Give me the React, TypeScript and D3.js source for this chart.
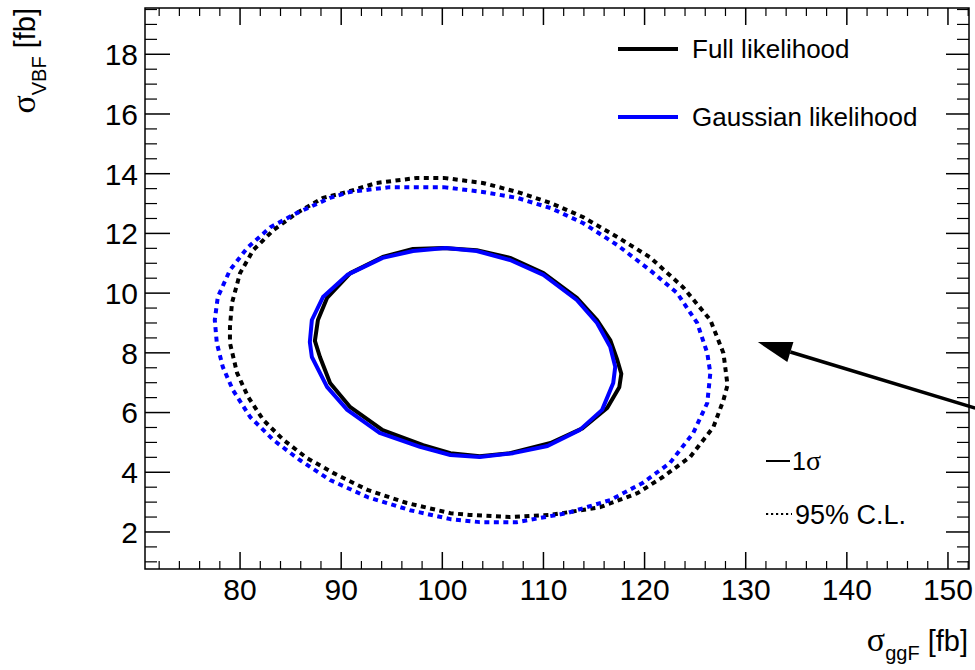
import React from "react";
import * as d3 from "d3";

type Pt = [number, number];

// contour points: [sigma_ggF, sigma_VBF]
const fullOneSigma: Pt[] = [
  [100.1, 11.51], [103.4, 11.44], [106.7, 11.18], [110.0, 10.67], [113.3, 9.84],
  [115.3, 9.1], [116.6, 8.43], [117.3, 7.76], [117.7, 7.3], [117.5, 6.85],
  [116.3, 6.15], [113.9, 5.48], [110.7, 4.98], [106.7, 4.64], [103.7, 4.54],
  [100.8, 4.64], [98.1, 4.91], [94.1, 5.41], [90.9, 6.18], [88.9, 6.99],
  [87.9, 7.86], [87.4, 8.4], [87.7, 9.1], [88.6, 9.84], [90.9, 10.67],
  [94.1, 11.21], [97.1, 11.48],
];

const gaussOneSigma: Pt[] = [
  [100.3, 11.51], [103.4, 11.41], [106.7, 11.11], [110.0, 10.61], [113.3, 9.77],
  [115.3, 9.0], [116.6, 8.2], [117.1, 7.53], [116.9, 6.99], [115.8, 6.09],
  [113.6, 5.42], [110.4, 4.88], [107.0, 4.64], [103.7, 4.51], [100.8, 4.58],
  [97.8, 4.85], [93.8, 5.32], [90.6, 6.09], [88.6, 6.86], [87.1, 7.86],
  [86.9, 8.36], [87.1, 9.1], [88.2, 9.87], [90.6, 10.61], [94.1, 11.18],
  [97.1, 11.41],
];

const full95: Pt[] = [
  [100.1, 13.86], [104.0, 13.69], [107.4, 13.39], [110.7, 13.02], [113.9, 12.55],
  [117.3, 11.88], [120.5, 11.21], [123.8, 10.2], [126.5, 9.1], [127.8, 7.99],
  [128.2, 6.92], [127.8, 6.42], [126.8, 5.51], [124.5, 4.51], [121.8, 3.84],
  [119.3, 3.3], [115.6, 2.83], [110.7, 2.57], [106.7, 2.5], [102.7, 2.57],
  [100.8, 2.63], [96.5, 2.97], [92.6, 3.41], [89.2, 3.98], [86.6, 4.48],
  [84.3, 5.08], [82.3, 5.75], [80.8, 6.52], [79.7, 7.33], [79.0, 8.33],
  [79.0, 8.87], [79.2, 9.67], [80.0, 10.67], [81.3, 11.44], [83.3, 12.11],
  [85.6, 12.68], [88.2, 13.19], [90.6, 13.39], [93.5, 13.69], [97.5, 13.86],
];

const gauss95: Pt[] = [
  [100.1, 13.55], [104.0, 13.39], [107.4, 13.19], [110.7, 12.85], [113.9, 12.35],
  [117.3, 11.61], [120.5, 10.78], [123.2, 10.01], [125.2, 9.0], [126.2, 7.99],
  [126.5, 7.32], [126.2, 6.32], [124.8, 5.31], [122.5, 4.31], [119.8, 3.64],
  [116.6, 3.07], [112.3, 2.63], [107.4, 2.33], [103.7, 2.33], [100.8, 2.43],
  [96.8, 2.73], [92.6, 3.17], [88.9, 3.74], [85.9, 4.41], [83.3, 5.08],
  [81.0, 5.85], [79.3, 6.75], [78.3, 7.52], [77.7, 8.33], [77.5, 9.1],
  [77.8, 9.87], [79.0, 10.77], [80.7, 11.51], [83.0, 12.21], [85.6, 12.68],
  [88.9, 13.19], [90.9, 13.39], [94.8, 13.55],
];

const xTickLabels = [80, 90, 100, 110, 120, 130, 140, 150];
const yTickLabels = [2, 4, 6, 8, 10, 12, 14, 16, 18];

// arrow from outside the frame pointing at the 95% contour
const arrowTail: Pt = [152.7, 6.15];
const arrowTip: Pt = [131.2, 8.36];

const W = 975;
const H = 670;
const frame = { left: 145, right: 969, top: 8, bottom: 569 };
const font = "'Liberation Sans', Arial, Helvetica, sans-serif";
const greek = "'Liberation Serif', 'Times New Roman', serif";

const x = d3.scaleLinear().domain([70.6, 152.08]).range([frame.left, frame.right]);
const y = d3.scaleLinear().domain([0.76, 19.55]).range([frame.bottom, frame.top]);

const contourPath = d3
  .line<Pt>()
  .x((d) => x(d[0]))
  .y((d) => y(d[1]))
  .curve(d3.curveLinearClosed);

const xMinor = d3.range(72, 152.1, 2).filter((v) => v % 10 !== 0);
const yMinor = d3.range(1, 19.6, 0.5).filter((v) => v % 2 !== 0);

export default function App() {
  const contour = (pts: Pt[], color: string, dashed: boolean) => (
    <path
      d={contourPath(pts) ?? ""}
      fill="none"
      stroke={color}
      strokeWidth={4}
      strokeDasharray={dashed ? "5,4.5" : undefined}
      strokeLinejoin="round"
    />
  );

  // arrow head geometry
  const tx = x(arrowTip[0]);
  const ty = y(arrowTip[1]);
  const sx = x(arrowTail[0]);
  const sy = y(arrowTail[1]);
  const ang = Math.atan2(ty - sy, tx - sx);
  const headLen = 34;
  const headHalf = 10.5;
  const bx = tx - headLen * Math.cos(ang);
  const by = ty - headLen * Math.sin(ang);
  const head = [
    [tx, ty],
    [bx + headHalf * Math.sin(ang), by - headHalf * Math.cos(ang)],
    [bx - headHalf * Math.sin(ang), by + headHalf * Math.cos(ang)],
  ]
    .map((p) => p.join(","))
    .join(" ");

  return (
    <svg
      width={W}
      height={H}
      style={{ position: "absolute", left: 0, top: 0, background: "#fff" }}
      fontFamily={font}
    >
      {/* frame */}
      <rect
        x={frame.left}
        y={frame.top}
        width={frame.right - frame.left}
        height={frame.bottom - frame.top}
        fill="none"
        stroke="#000"
        strokeWidth={1.5}
      />

      {/* x ticks, bottom and top */}
      {xTickLabels.map((v) => (
        <g key={"xM" + v}>
          <line x1={x(v)} x2={x(v)} y1={frame.bottom} y2={frame.bottom - 17} stroke="#000" strokeWidth={1.5} />
          <line x1={x(v)} x2={x(v)} y1={frame.top} y2={frame.top + 17} stroke="#000" strokeWidth={1.5} />
          <text x={x(v)} y={600} textAnchor="middle" fontSize={30}>
            {v}
          </text>
        </g>
      ))}
      {xMinor.map((v) => (
        <g key={"xm" + v}>
          <line x1={x(v)} x2={x(v)} y1={frame.bottom} y2={frame.bottom - 8} stroke="#000" strokeWidth={1.2} />
          <line x1={x(v)} x2={x(v)} y1={frame.top} y2={frame.top + 8} stroke="#000" strokeWidth={1.2} />
        </g>
      ))}

      {/* y ticks, left and right */}
      {yTickLabels.map((v) => (
        <g key={"yM" + v}>
          <line x1={frame.left} x2={frame.left + 25} y1={y(v)} y2={y(v)} stroke="#000" strokeWidth={1.5} />
          <line x1={frame.right} x2={frame.right - 23} y1={y(v)} y2={y(v)} stroke="#000" strokeWidth={1.5} />
          <text x={138} y={y(v)} dy="0.36em" textAnchor="end" fontSize={30}>
            {v}
          </text>
        </g>
      ))}
      {yMinor.map((v) => (
        <g key={"ym" + v}>
          <line x1={frame.left} x2={frame.left + 12} y1={y(v)} y2={y(v)} stroke="#000" strokeWidth={1.2} />
          <line x1={frame.right} x2={frame.right - 12} y1={y(v)} y2={y(v)} stroke="#000" strokeWidth={1.2} />
        </g>
      ))}

      {/* contours */}
      {contour(full95, "#000", true)}
      {contour(gauss95, "#0000ff", true)}
      {contour(fullOneSigma, "#000", false)}
      {contour(gaussOneSigma, "#0000ff", false)}

      {/* arrow */}
      <line x1={sx} y1={sy} x2={bx} y2={by} stroke="#000" strokeWidth={3.5} />
      <polygon points={head} fill="#000" />

      {/* legend */}
      <line x1={618} x2={678} y1={49} y2={49} stroke="#000" strokeWidth={4} />
      <text x={692} y={58} fontSize={26}>Full likelihood</text>
      <line x1={618} x2={678} y1={117} y2={117} stroke="#0000ff" strokeWidth={4} />
      <text x={692} y={126} fontSize={26}>Gaussian likelihood</text>

      {/* line style key */}
      <line x1={766} x2={790} y1={461} y2={461} stroke="#000" strokeWidth={2} />
      <text x={792} y={470} fontSize={25}>
        1<tspan fontFamily={greek} fontSize={28}>σ</tspan>
      </text>
      <line x1={766} x2={792} y1={514} y2={514} stroke="#000" strokeWidth={2.2} strokeDasharray="2.2,2.8" />
      <text x={795} y={524} fontSize={27}>95% C.L.</text>

      {/* axis titles */}
      <text x={968} y={651} textAnchor="end" fontSize={29}>
        <tspan fontFamily={greek} fontSize={34}>σ</tspan>
        <tspan fontSize={20} dy={9}>ggF</tspan>
        <tspan dy={-9}> [fb]</tspan>
      </text>
      <text transform={`translate(35, ${frame.top}) rotate(-90)`} textAnchor="end" fontSize={29}>
        <tspan fontFamily={greek} fontSize={34}>σ</tspan>
        <tspan fontSize={20} dy={11}>VBF</tspan>
        <tspan dy={-11}> [fb]</tspan>
      </text>
    </svg>
  );
}
